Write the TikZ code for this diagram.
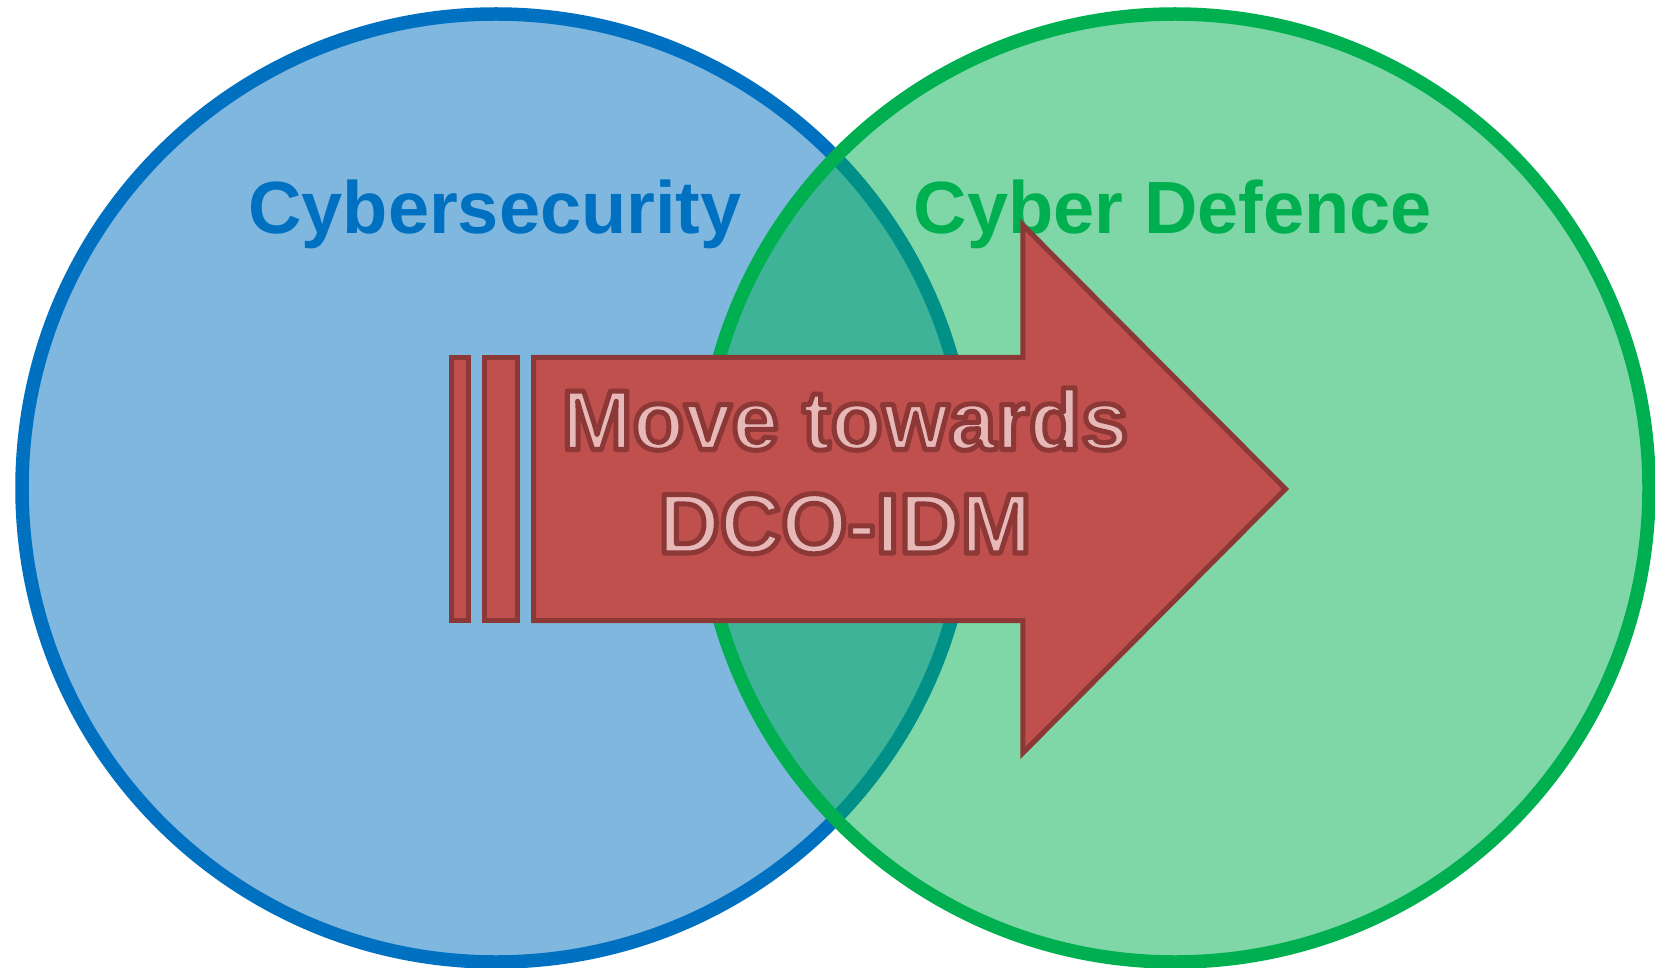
\documentclass[tikz,border=0pt]{standalone}
\usepackage{fontspec}
\setmainfont{Liberation Sans}
\definecolor{cyblue}{HTML}{0070C0}
\definecolor{cdgreen}{HTML}{00B050}
\definecolor{arrowred}{HTML}{C0504D}
\definecolor{arrowdark}{HTML}{8C3836}
\definecolor{textpink}{HTML}{E6B9B8}
\newcommand{\outlinedtext}[1]{\special{pdf:literal direct 2 Tr 5 w 1 j 0.549 0.22 0.212 RG}#1\special{pdf:literal direct 0 Tr 0 j}}
\begin{document}
\begin{tikzpicture}[x=1pt,y=-1pt,
  venn/.style={circle,minimum size=948pt,inner sep=0pt,outer sep=0pt,line width=13.5pt,fill opacity=0.5,draw opacity=1},
  title/.style={font=\fontsize{74}{80}\selectfont\bfseries,anchor=base,inner sep=0pt},
  arrowtxt/.style={font=\fontsize{85}{100}\selectfont\bfseries,anchor=base,inner sep=0pt,text=textpink},
  arrowpart/.style={fill=arrowred,draw=arrowdark,line width=5pt,line join=miter}]
\useasboundingbox (0,0) rectangle (1655,968);
\node[venn,draw=cyblue,fill=cyblue] (cs) at (496,488) {};
\node[title,text=cyblue] (cstitle) at (495,234) {Cybersecurity};
\node[venn,draw=cdgreen,fill=cdgreen] (cd) at (1175,488) {};
\node[title,text=cdgreen] (cdtitle) at (1173,234) {Cyber Defence};
\draw[arrowpart] (451.5,357.5) rectangle (468,620.5);
\draw[arrowpart] (484.5,357.5) rectangle (517,620.5);
\draw[arrowpart] (533.5,357.5) -- (1022.8,357.5) -- (1022.8,225) -- (1285.5,489)
  -- (1022.8,753) -- (1022.8,620.5) -- (533.5,620.5) -- cycle;
\node[arrowtxt] (t1) at (845,449.5) {\outlinedtext{Move towards}};
\node[arrowtxt] (t2) at (845,553) {\outlinedtext{DCO-IDM}};
\end{tikzpicture}
\end{document}
